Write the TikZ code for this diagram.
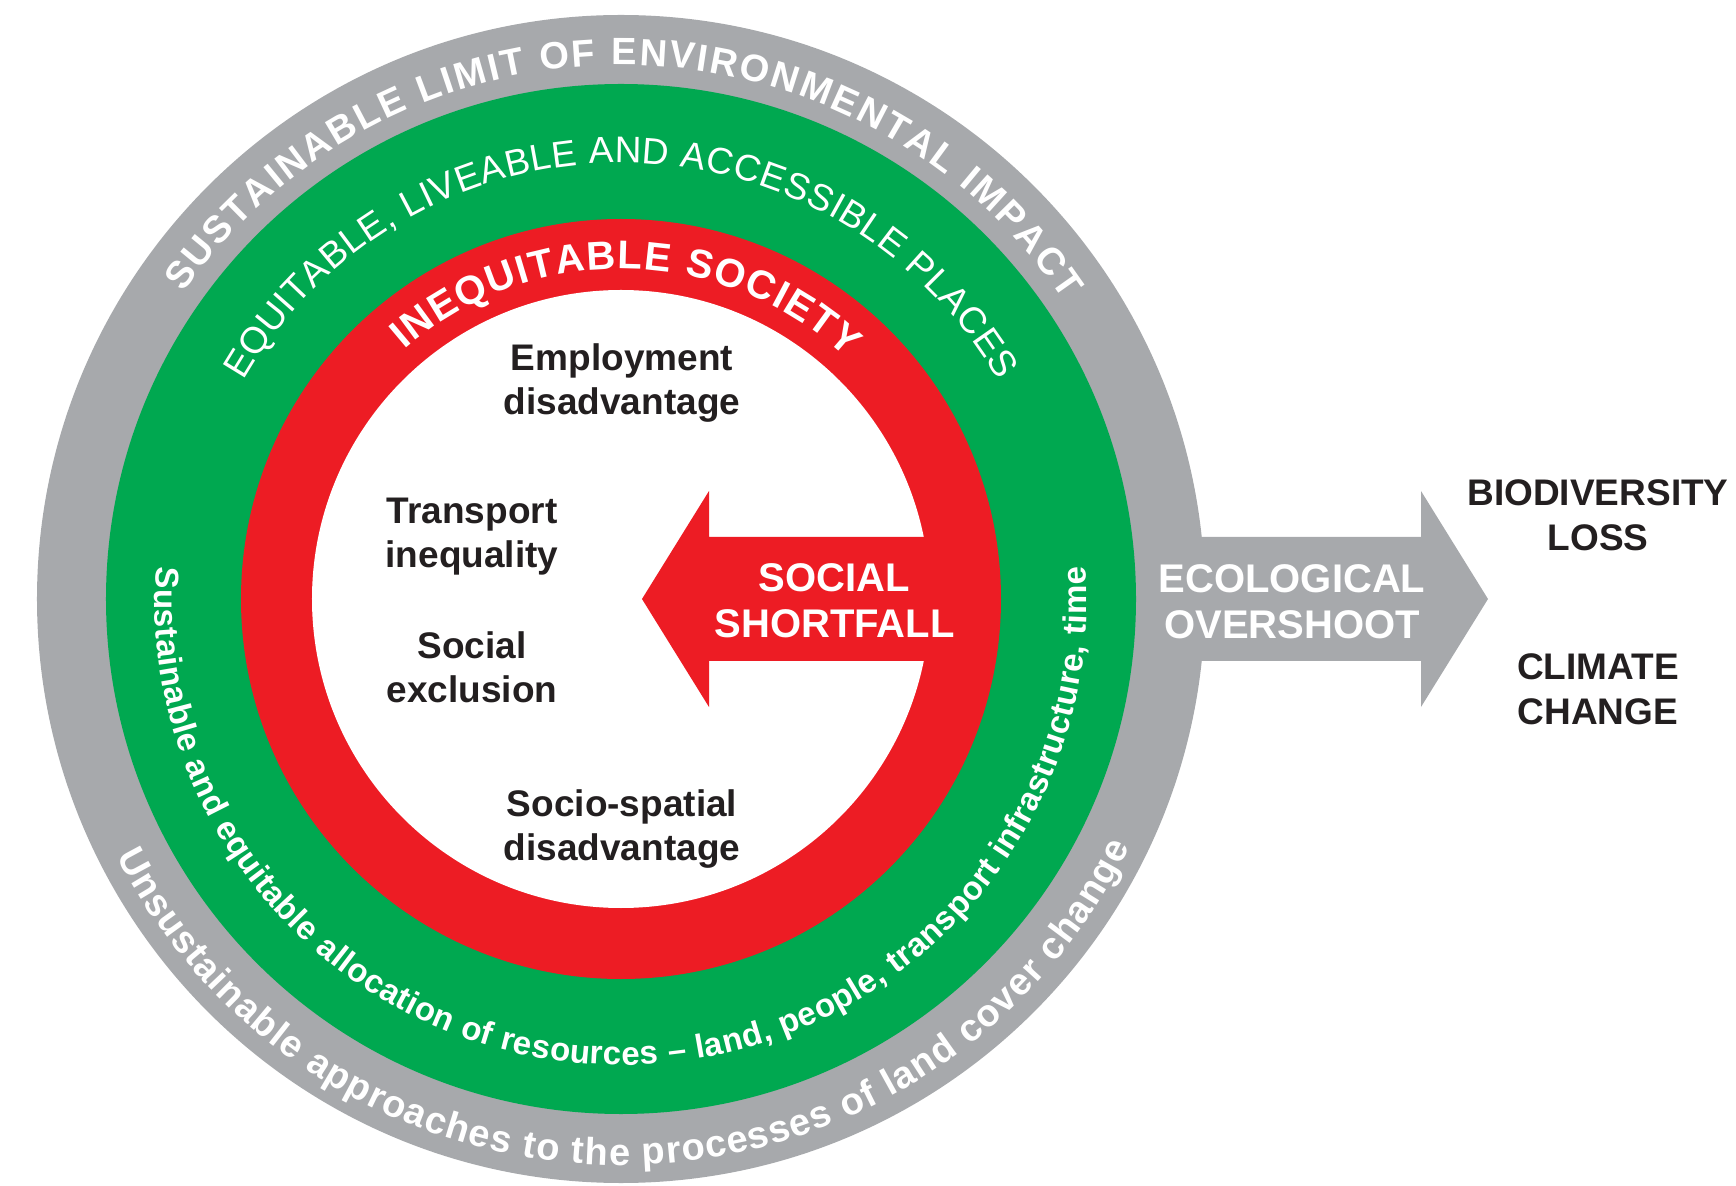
\documentclass[tikz,border=0pt]{standalone}
\usepackage{fontspec}
\setmainfont{Liberation Sans}
\usetikzlibrary{positioning}
\usetikzlibrary{decorations.text}
\definecolor{ring-gray}{RGB}{167,169,172}
\definecolor{ring-green}{RGB}{0,168,80}
\definecolor{ring-red}{RGB}{237,28,36}
\definecolor{ink}{RGB}{35,31,32}

\begin{document}
\begin{tikzpicture}[x=1pt, y=1pt,
inner/.style={font=\bfseries\fontsize{37}{44}\selectfont, text=ink, align=center, inner sep=0pt,
  execute at begin node=\strut, execute at end node=\strut},
outer/.style={font=\bfseries\fontsize{37}{45}\selectfont, text=ink, align=center, inner sep=0pt,
  execute at begin node=\strut, execute at end node=\strut},
arrowtext/.style={font=\bfseries\fontsize{40}{46}\selectfont, text=white, align=center, inner sep=0pt,
  execute at begin node=\strut, execute at end node=\strut},
arctext/.style={decorate, decoration={text along path, text align=fit to path, text color=white, text={#1}}}]

\useasboundingbox (-621,-586) rectangle (1115,599);

% ecological overshoot arrow (under the rings)
\fill[ring-gray] (0,62) -- (800,62) -- (800,108) -- (867,0) -- (800,-108) -- (800,-62) -- (0,-62) -- cycle;

% rings
\fill[ring-gray] (0,0) circle[radius=584];
\fill[ring-green] (0,0) circle[radius=515];
\fill[ring-red] (0,0) circle[radius=380];
\fill[white] (0,0) circle[radius=309];

% social shortfall arrow
\fill[ring-red] (340,62) -- (88,62) -- (88,108) -- (21,0) -- (88,-108) -- (88,-62) -- (340,-62) -- cycle;

% texts round the rings
\path[arctext={|\bfseries\fontsize{38}{40}\selectfont|SUSTAINABLE LIMIT OF ENVIRONMENTAL IMPACT}]
  (145:534) arc[start angle=145, end angle=34, radius=534];
\path[arctext={|\fontsize{37}{40}\selectfont|EQUITABLE, LIVEABLE AND ACCESSIBLE PLACES}]
  (150:436) arc[start angle=150, end angle=30, radius=436];
\path[arctext={|\bfseries\fontsize{40}{44}\selectfont|INEQUITABLE SOCIETY}]
  (131:330) arc[start angle=131, end angle=47, radius=330];
\path[arctext={|\bfseries\fontsize{33}{36}\selectfont|Sustainable and equitable allocation of resources – land, people, transport infrastructure, time}]
  (176:466) arc[start angle=176, end angle=364, radius=466];
\path[arctext={|\bfseries\fontsize{38}{40}\selectfont|Unsustainable approaches to the processes of land cover change}]
  (207:566) arc[start angle=207, end angle=334, radius=566];

% inside the circle
\node[inner] (employ) at (1,213.8) {Employment\\disadvantage};
\node[inner] (transport) at (-149,59.8) {Transport\\inequality};
\node[inner, below=50.4pt of transport] (exclusion) {Social\\exclusion};
\node[inner] (spatial) at (1,-232.5) {Socio-spatial\\disadvantage};

% arrow labels
\node[arrowtext] (shortfall) at (213.5,-8.5) {SOCIAL\\SHORTFALL};
\node[arrowtext] (overshoot) at (671,-9.5) {ECOLOGICAL\\OVERSHOOT};

% outcomes
\node[outer] (biodiv) at (977,77.2) {BIODIVERSITY\\LOSS};
\node[outer, below=89.4pt of biodiv] (climate) {CLIMATE\\CHANGE};

\end{tikzpicture}
\end{document}
